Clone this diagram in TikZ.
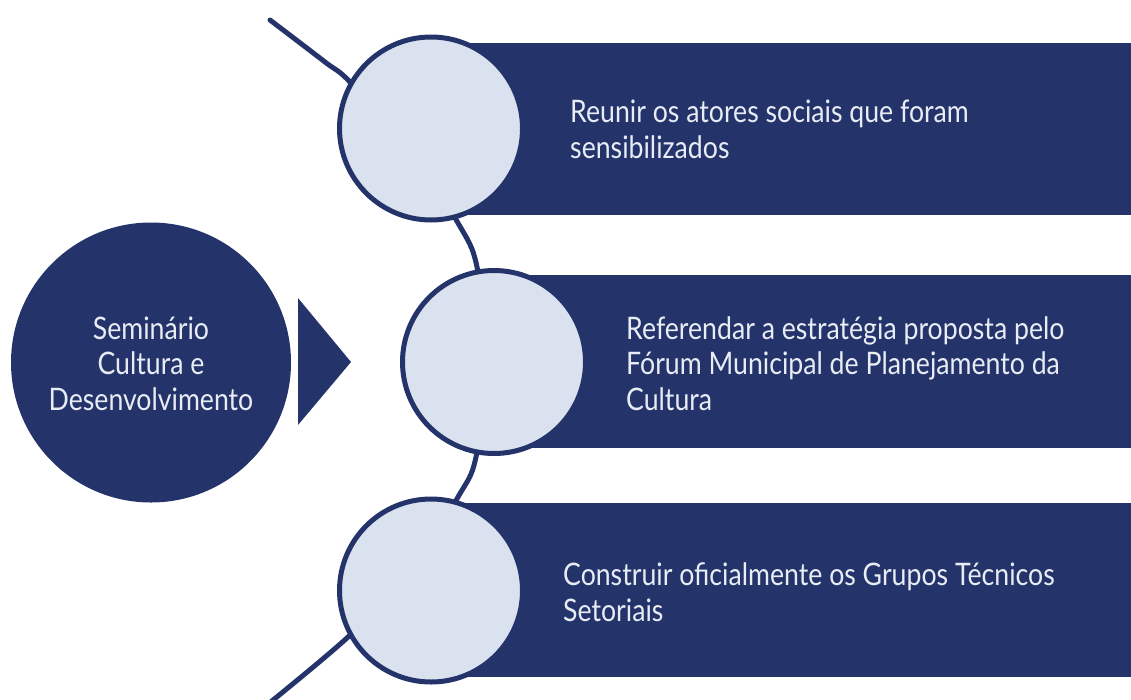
\documentclass[tikz,border=0pt]{standalone}
\usepackage{fontspec}
\setmainfont{Lato}[FakeStretch=0.86]
\definecolor{navy}{HTML}{24346B}
\definecolor{pale}{HTML}{DAE2EF}
\definecolor{txt}{HTML}{E8ECF4}
\tikzset{
  bigdisc/.style={circle, fill=navy, minimum size=280pt, inner sep=0pt},
  stepdisc/.style={circle, fill=pale, draw=navy, line width=5pt, minimum size=183pt, inner sep=0pt},
  bar/.style={rectangle, fill=navy, anchor=north west, inner sep=0pt},
  bartext/.style={anchor=base west, align=left, text=txt, inner sep=0pt,
    font=\fontsize{31}{35.5}\selectfont},
  disctext/.style={align=center, text=txt, inner sep=0pt,
    font=\fontsize{31}{35.5}\selectfont},
  arcline/.style={draw=navy, line width=5pt, line cap=round}
}
\begin{document}
\begin{tikzpicture}[x=1pt,y=-1pt]
\useasboundingbox (0,0) rectangle (1131,699);
% curved spine
\draw[arcline] plot[smooth, tension=0.55] coordinates {(270,20) (325,62) (350,82) (410,150) (458,223) (477,267) (487,362) (476,457) (458,497) (410,572) (348,637) (262,709)};
% bars
\node[bar, minimum width=700pt, minimum height=172pt] (b1) at (431,43) {};
\node[bar, minimum width=637pt, minimum height=173pt] (b2) at (494,275) {};
\node[bar, minimum width=700pt, minimum height=174pt] (b3) at (431,503) {};
% step circles
\node[stepdisc] (c1) at (431,128.5) {};
\node[stepdisc] (c2) at (494,362) {};
\node[stepdisc] (c3) at (431,590.5) {};
% main disc and pointer
\node[bigdisc] (m) at (151,362.5) {};
\fill[navy] (298,298) -- (351,362) -- (298,425) -- cycle;
\node[disctext, anchor=base] (mt) at (151,410) {Seminário\\Cultura e\\Desenvolvimento};
% texts (anchored at the baseline of the last line)
\node[bartext] (t1) at (570,158) {Reunir os atores sociais que foram\\sensibilizados};
\node[bartext] (t2) at (626,410) {Referendar a estratégia proposta pelo\\Fórum Municipal de Planejamento da\\Cultura};
\node[bartext] (t3) at (563,621) {Construir oficialmente os Grupos Técnicos\\Setoriais};
\end{tikzpicture}
\end{document}
